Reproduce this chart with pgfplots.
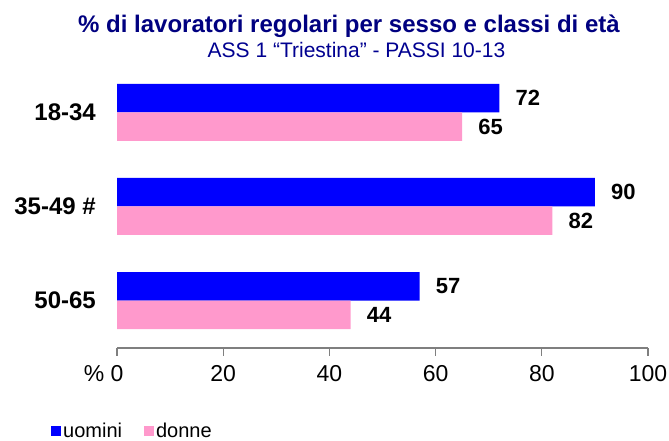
\documentclass[border=0pt]{standalone}
\usepackage{fontspec}
\setmainfont{Liberation Sans}
\usepackage{pgfplots}
\pgfplotsset{compat=1.18}
\definecolor{uomini}{HTML}{0000FF}
\definecolor{donne}{HTML}{FF99CC}
\definecolor{titleblue}{HTML}{000080}
\definecolor{subblue}{HTML}{000090}
\definecolor{axisgray}{HTML}{7F7F7F}
\begin{document}
\begin{tikzpicture}[x=1pt,y=1pt]
\path[use as bounding box] (0,0) rectangle (669,441);
\node[anchor=base, text=titleblue, font=\bfseries\fontsize{24}{28}\selectfont, inner sep=0pt] at (349,408) {\% di lavoratori regolari per sesso e classi di età};
\node[anchor=base, text=subblue, font=\fontsize{21}{25}\selectfont, inner sep=0pt] at (356.5,383) {ASS 1 “Triestina” - PASSI 10-13};
\begin{axis}[
  at={(117pt,93pt)}, anchor=south west,
  scale only axis, width=531pt, height=283pt,
  xbar, bar width=28.5pt,
  xmin=0, xmax=100,
  ymin=-0.505, ymax=2.505,
  axis x line*=bottom, axis y line*=left,
  y axis line style={draw=none},
  x axis line style={draw=axisgray, line width=1.2pt},
  xtick={0,20,40,60,80,100},
  xticklabels={\llap{\%\ }0,20,40,60,80,100},
  xtick align=outside,
  major tick length=8pt,
  xtick style={draw=axisgray, line width=1.2pt},
  ytick={0,1,2},
  yticklabels={50-65,35-49 \#,18-34},
  ytick style={draw=none},
  /pgf/number format/assume math mode=true,
  xticklabel style={font=\fontsize{23}{27}\selectfont, yshift=-6pt},
  yticklabel style={font=\bfseries\fontsize{24}{28}\selectfont, inner sep=0pt, xshift=-13pt},
  nodes near coords,
  nodes near coords style={font=\bfseries\fontsize{22}{26}\selectfont, inner sep=0pt, anchor=west, xshift=16pt, text=black},
  legend columns=2,
  legend cell align=left,
  legend style={at={(axis description cs:-0.1243,-0.3286)}, anchor=south west, draw=none, fill=none, inner sep=0pt,
    font=\fontsize{20}{24}\selectfont,
    /tikz/every even column/.append style={column sep=20pt}},
  legend image code/.code={\fill[#1,draw=none] (0pt,-5pt) rectangle (10pt,5pt);},
]
\addplot[fill=uomini, draw=none, bar shift=14.25pt] coordinates {(57,0) (90,1) (72,2)};
\addplot[fill=donne, draw=none, bar shift=-14.25pt] coordinates {(44,0) (82,1) (65,2)};
\legend{uomini,donne}
\end{axis}
\end{tikzpicture}
\end{document}
